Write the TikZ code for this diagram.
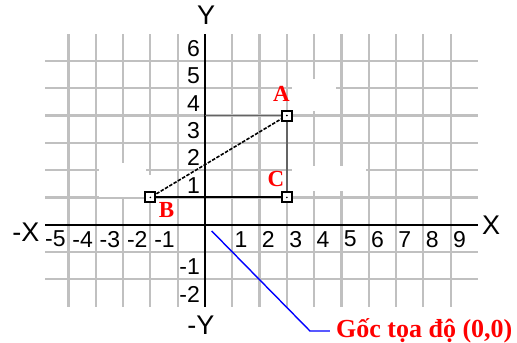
\documentclass[tikz,border=0pt]{standalone}
\usepackage{fontspec}
\setmainfont{Liberation Serif}
\setsansfont{Liberation Sans}
\definecolor{gridc}{RGB}{192,192,192}
\definecolor{segc}{RGB}{100,100,100}
\begin{document}
\begin{tikzpicture}[x=27.3pt,y=27.3pt,
  gridline/.style={draw=gridc, line width=2.2pt},
  axisline/.style={draw=black, line width=2.2pt},
  patch/.style={fill=white, draw=none},
  numlbl/.style={font=\sffamily\fontsize{23}{23}\selectfont, inner sep=0pt},
  axlbl/.style={font=\sffamily\fontsize{27}{27}\selectfont, inner sep=0pt},
  ptlbl/.style={font=\bfseries\fontsize{23}{23}\selectfont, text=red, inner sep=0pt},
  ptmark/.style={rectangle, draw=black, line width=2pt, fill=white, minimum size=10pt, inner sep=0pt},
  gocstyle/.style={font=\bfseries\fontsize{26}{26}\selectfont, text=red, inner sep=0pt}]
\useasboundingbox (-7.509,-4.333) rectangle (11.429,8.231);
% grid
\foreach \i in {-5,...,9} \draw[gridline] (\i,-3) -- (\i,7);
\foreach \j in {-2,-1,1,2,3,4,5,6} \draw[gridline] (-5.86,\j) -- (10,\j);
% white patches
\fill[patch] (3.19,5.34) rectangle (4.80,4.16);
\fill[patch] (3.19,2.14) rectangle (5.90,1.22);
\fill[patch] (-3.88,2.25) rectangle (-2.15,1.01);
\fill[patch] (-2.15,1.82) rectangle (-1.80,1.05);
% axes
\draw[axisline] (-5.86,0) -- (10,0);
\draw[axisline] (0,-3) -- (0,7);
% tick labels
\foreach \i in {1,...,9} \node[numlbl, anchor=west] (xp\i) at (\i+0.08,-0.53) {\i};
\foreach \i in {1,...,5} \node[numlbl, anchor=east] (xn\i) at (-\i-0.1,-0.53) {-\i};
\foreach \j in {1,...,6} \node[numlbl, anchor=east] (yp\j) at (-0.18,\j+0.45) {\j};
\foreach \j in {1,2} \node[numlbl, anchor=east] (yn\j) at (-0.18,-\j-0.55) {-\j};
% axis names
\node[axlbl] (ly) at (0.04,7.68) {Y};
\node[axlbl] (lny) at (-0.15,-3.67) {-Y};
\node[axlbl] (lnx) at (-6.56,-0.27) {-X};
\node[axlbl] (lx) at (10.48,-0.01) {X};
% points
\node[ptmark] (A) at (3,4) {};
\node[ptmark] (B) at (-2,1) {};
\node[ptmark] (C) at (3,1) {};
\coordinate (yA) at (0,4);
\draw[segc, line width=1.2pt] (yA) -- (A);
\draw[segc, line width=1.4pt] (A) -- (C);
\draw[black, line width=2pt] (B) -- (C);
\draw[black, line width=1.6pt, dash pattern=on 3.5pt off 1.5pt] (B) -- (A);
\fill[black] (A) circle (0.9pt);
\fill[black] (B) circle (0.9pt);
\fill[black] (C) circle (0.9pt);
\node[ptlbl] (lA) at (2.80,4.79) {A};
\node[ptlbl] (lB) at (-1.41,0.54) {B};
\node[ptlbl] (lC) at (2.60,1.69) {C};
% origin callout
\node[gocstyle, anchor=base west] (goc) at (4.80,-4.114) {Gốc tọa độ (0,0)};
\coordinate (org) at (0.245,-0.23);
\coordinate (bend) at (3.846,-3.894);
\coordinate (lend) at (4.579,-3.894);
\draw[blue, line width=1.4pt] (org) -- (bend) -- (lend);
\end{tikzpicture}
\end{document}
